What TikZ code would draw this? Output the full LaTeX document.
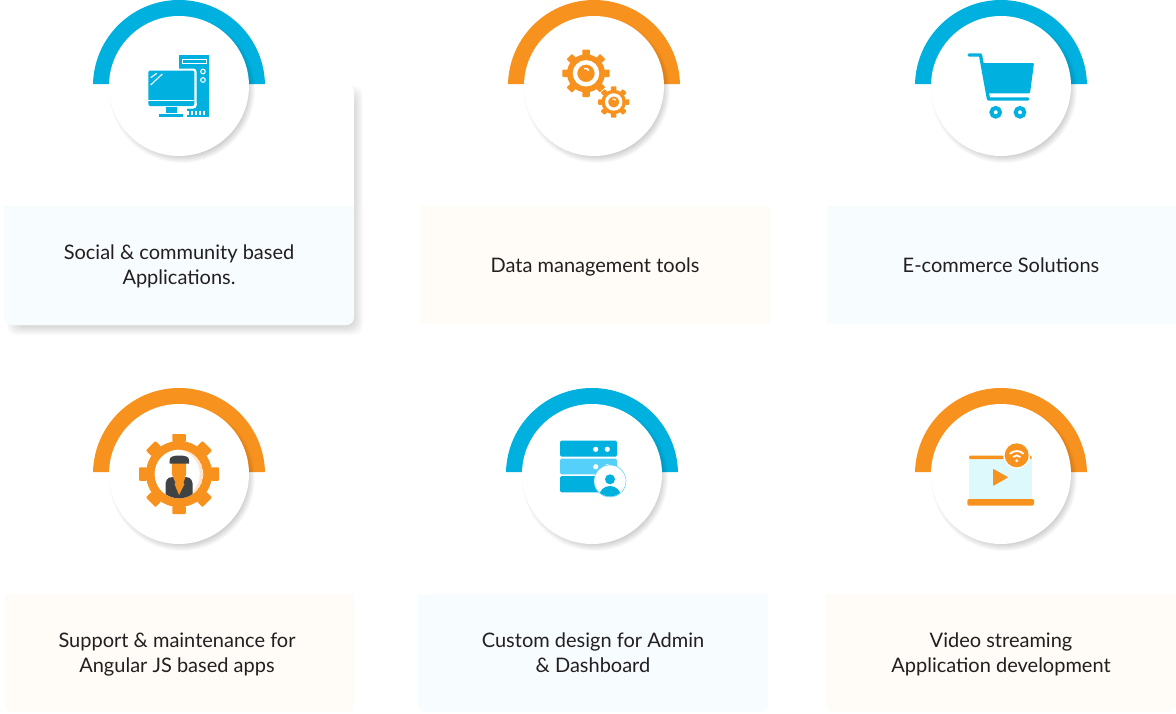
\documentclass[tikz,border=0pt]{standalone}
\usepackage{fontspec}
\setmainfont{Lato}
\usepackage{xcolor}
\usepackage{tikz}
\definecolor{skyc}{HTML}{00B0DE}
\definecolor{orc}{HTML}{F8921E}
\definecolor{lightsky}{HTML}{54D0FA}
\definecolor{palesky}{HTML}{F7FCFF}
\definecolor{paleor}{HTML}{FFFBF6}
\definecolor{peach}{HTML}{FDE6CF}
\definecolor{slatec}{HTML}{3F4345}
\definecolor{screenc}{HTML}{DDF9FB}
\definecolor{inkc}{HTML}{231F20}
\tikzset{
    caption/.style={font=\fontsize{20}{25}\selectfont, text=inkc, align=center},
    wline/.style={draw=white, line width=1.1pt},
}
% arc, soft shadow and white disc
\newcommand{\badge}[3]{
    \fill[#3] (#1-85.98, #2-2) arc[start angle=178.67, end angle=1.33, radius=86pt] -- cycle;
    \foreach \r in {64,65,...,73}
        \fill[black, opacity=0.022] (#1+3, #2+4) circle[radius=\r pt];
    \fill[white] (#1, #2) circle[radius=70pt];
}
% teeth of a gear
\newcommand{\cog}[6]{
    \foreach \a in {0,45,...,315}
        \fill[#6, rounded corners=0.8pt, rotate around={\a:(#1,#2)}] ({#1-#5/2}, {#2-#4}) rectangle ({#1+#5/2}, {#2-#3+1});
    \fill[#6] (#1, #2) circle[radius=#3 pt];
}
% card with round lower corners
\newcommand{\plate}[5]{
    \fill[#5, rounded corners=8pt] (#1, #3) rectangle (#2, #4);
    \fill[#5] (#1, #3) rectangle (#2, #3+30);
}
\begin{document}
\begin{tikzpicture}[x=1pt, y=-1pt]
    \useasboundingbox (0, 0) rectangle (1176, 713);
    \fill[white] (0, 0) rectangle (1176, 713);

    % first card, raised
    \foreach \d in {0,...,9}
        \fill[black, opacity=0.016, rounded corners=9pt] (7+\d, 86+\d) rectangle (363-\d, 335-\d);
    \fill[white, rounded corners=8pt] (4, 84) rectangle (354, 325);
    \plate{4}{354}{206}{325}{palesky}

    % other cards
    \fill[paleor] (421, 206) rectangle (770, 324);
    \fill[palesky] (827, 206) rectangle (1176, 324);
    \plate{5}{354}{594}{712}{paleor}
    \plate{418}{768}{594}{712}{palesky}
    \plate{826}{1176}{594}{712}{paleor}

    \badge{179}{86}{skyc}
    \badge{594}{86}{orc}
    \badge{1001}{86}{skyc}
    \badge{179}{474}{orc}
    \badge{592}{474}{skyc}
    \badge{1001}{474}{orc}

    % computer
    \fill[skyc] (179.3, 55) rectangle (209, 117);
    \draw[wline] (182.5, 59.5) rectangle (206.5, 63.5);
    \draw[wline] (203, 71.5) circle[radius=2.3pt];
    \draw[wline] (203, 80) circle[radius=2.3pt];
    \foreach \x in {188,192,196,200,204}
        \draw[wline] (\x, 110.5) -- (\x, 115);
    \fill[white, rounded corners=3pt] (146, 68.5) rectangle (196.5, 108);
    \fill[white, rounded corners=3pt] (150, 100) rectangle (196.5, 108.5);
    \fill[white] (150, 107) rectangle (187, 119);
    \fill[skyc, rounded corners=2pt] (148.3, 70.5) rectangle (194.3, 106);
    \draw[wline] (148.3, 100.8) -- (194.3, 100.8);
    \draw[wline] (150.7, 77.7) -- (156.7, 73.3);
    \draw[wline] (150.7, 85) -- (162.3, 74);
    \fill[skyc] (165.5, 107.3) rectangle (177.3, 112.5);
    \fill[skyc] (159, 114) rectangle (183.3, 117);

    % gears
    \cog{586}{73.3}{19}{23.7}{7.5}{orc}
    \draw[white, line width=4.4pt] (586, 73.3) circle[radius=11pt];
    \draw[white, line width=1.5pt] (589, 70.5) arc[start angle=30, end angle=110, radius=4pt];
    \fill[white] (613.7, 102) circle[radius=16.5pt];
    \cog{613.7}{102}{12.3}{15.7}{5.5}{orc}
    \draw[white, line width=3.2pt] (613.7, 102) circle[radius=7.1pt];
    \draw[white, line width=1.1pt] (615.7, 100.3) arc[start angle=30, end angle=110, radius=2.8pt];

    % cart
    \draw[skyc, line width=3.3pt, line cap=round, line join=round] (969, 55) -- (980.5, 55) -- (988.5, 99) -- (1028, 99);
    \fill[skyc, rounded corners=1pt] (981.7, 63) -- (1034, 63) -- (1030, 93.3) -- (987, 93.3) -- cycle;
    \draw[skyc, line width=4pt] (995.7, 112.3) circle[radius=4.3pt];
    \draw[skyc, line width=4pt] (1020, 112.3) circle[radius=4.3pt];

    % support gear with person
    \cog{179}{474}{33}{40}{13.5}{orc}
    \begin{scope}
        \clip (179, 474) circle[radius=24.3pt];
        \fill[peach] (179, 474) circle[radius=24.3pt];
        \fill[white] (175.5, 474) circle[radius=24.3pt];
        \fill[slatec, rounded corners=4pt] (165.7, 500) -- (165.7, 479) -- (172, 476.7) -- (186, 476.7) -- (192.5, 479) -- (192.5, 500) -- cycle;
    \end{scope}
    \fill[orc] (171.8, 463) -- (186.2, 463) -- (186.2, 473) .. controls (186.2, 477) and (183, 479.5) .. (179, 479.5) .. controls (175, 479.5) and (171.8, 477) .. (171.8, 473) -- cycle;
    \fill[slatec] (169.7, 463.5) -- (189, 463.5) -- (189, 460) .. controls (189, 457) and (186, 455.5) .. (179.3, 455.5) .. controls (172.7, 455.5) and (169.7, 457) .. (169.7, 460) -- cycle;
    \fill[orc] (173, 476.7) -- (185.5, 476.7) -- (183.5, 483) -- (184.5, 484) -- (179, 495) -- (174.5, 484) -- (175.5, 483) -- cycle;

    % server with avatar
    \fill[skyc, rounded corners=1.5pt] (560, 440.7) rectangle (617, 456.7);
    \fill[lightsky, rounded corners=1.5pt] (560, 458.7) rectangle (617, 474.3);
    \fill[skyc, rounded corners=1.5pt] (560, 476) rectangle (617, 492.3);
    \foreach \x/\y in {595.7/449.3, 607.3/449.3, 595.7/466.7, 607.3/466.7}
        \fill[white] (\x, \y) circle[radius=2.6pt];
    \fill[white] (610, 481) circle[radius=16pt];
    \draw[lightsky, line width=0.5pt] (610, 481) circle[radius=16pt];
    \fill[skyc] (610, 479.3) circle[radius=5pt];
    \begin{scope}
        \clip (610, 481) circle[radius=15.5pt];
        \fill[skyc] (610, 496) ellipse[x radius=10.7pt, y radius=10pt];
    \end{scope}

    % video screen
    \fill[screenc] (969, 456) rectangle (1031.7, 499);
    \fill[orc, rounded corners=1.2pt] (969, 455.7) rectangle (1031.7, 459);
    \fill[orc, rounded corners=1.5pt] (967.3, 499) rectangle (1034, 505.7);
    \fill[orc, rounded corners=0.8pt] (993, 468.7) -- (1008.3, 477.3) -- (993, 486) -- cycle;
    \fill[white] (1016.7, 455.3) circle[radius=13.5pt];
    \fill[orc] (1016.7, 455.3) circle[radius=12pt];
    \fill[white] (1016.7, 460.7) circle[radius=1.6pt];
    \draw[white, line width=1.8pt] (1013, 457) arc[start angle=135, end angle=45, radius=5.3pt];
    \draw[white, line width=1.8pt] (1009.84, 453.84) arc[start angle=135, end angle=45, radius=9.7pt];

    \node[caption] (social) at (179, 267) {\strut Social \& community based\\\strut Applications.};
    \node[caption] (data) at (595, 267) {\strut Data management tools};
    \node[caption] (shop) at (1001, 267) {\strut E-commerce Solutions};
    \node[caption] (support) at (177, 655) {\strut Support \& maintenance for\\\strut Angular JS based apps};
    \node[caption] (admin) at (593, 655) {\strut Custom design for Admin\\\strut \& Dashboard};
    \node[caption] (video) at (1001, 655) {\strut Video streaming\\\strut Application development};
\end{tikzpicture}
\end{document}
